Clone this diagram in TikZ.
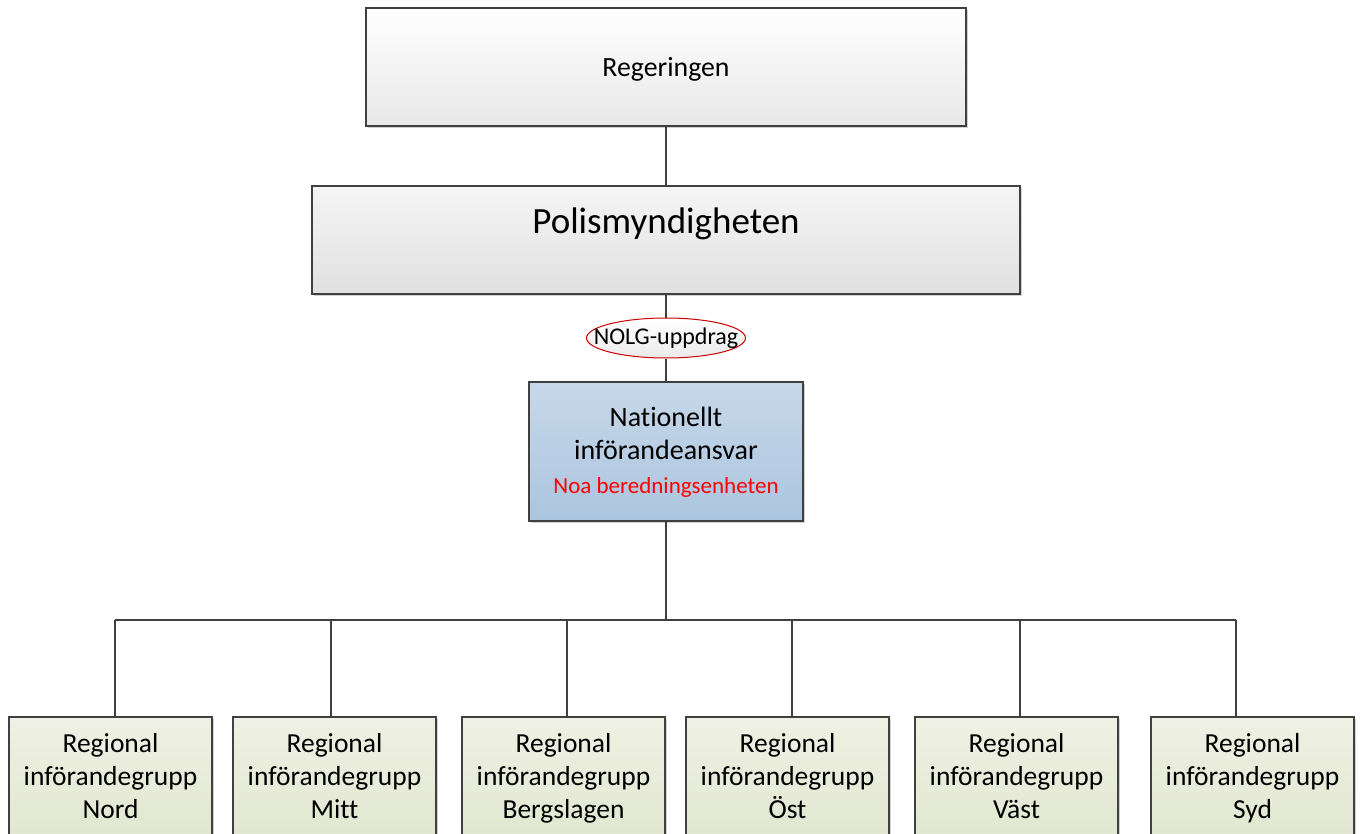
\documentclass[tikz,border=0pt]{standalone}
\usepackage{fontspec}
\setmainfont{Carlito}[Ligatures=NoCommon]
\usetikzlibrary{shapes.geometric,shadows}
\definecolor{linec}{HTML}{404040}
\definecolor{bluetop}{HTML}{C7D8EA}
\definecolor{bluebot}{HTML}{ABC5DE}
\definecolor{greentop}{HTML}{EFF1E4}
\definecolor{greenbot}{HTML}{DFE5CD}
\tikzset{
  box/.style={draw=linec, line width=1.2pt, inner sep=0pt, align=center, text=black,
    drop shadow={shadow xshift=2pt, shadow yshift=-2pt, opacity=0.35, fill=gray}},
  graybox/.style={box, top color=white, bottom color=black!9},
  polbox/.style={box, top color=black!4, bottom color=black!12},
  bluebox/.style={box, top color=bluetop, bottom color=bluebot},
  greenbox/.style={box, top color=greentop, bottom color=greenbot, minimum width=203pt, minimum height=140pt},
  conn/.style={draw=linec, line width=1.2pt},
}
\begin{document}
\begin{tikzpicture}[x=1pt,y=-1pt]
\useasboundingbox (0,0) rectangle (1362,834);
\clip (0,0) rectangle (1362,834);
\fill[white] (0,0) rectangle (1362,834);
% boxes
\node[graybox, minimum width=600pt, minimum height=118pt] (reg) at (666,67) {};
\node[font=\fontsize{27.8}{33}\selectfont] (regtext) at (666,69) {Regeringen};
\node[polbox, minimum width=708pt, minimum height=108pt] (pol) at (666,240) {};
\node[font=\fontsize{37}{44}\selectfont] (poltext) at (666,224) {Polismyndigheten};
\node[bluebox, minimum width=274pt, minimum height=139pt] (nat) at (666,451.5) {};
\node[align=center, font=\fontsize{28}{33}\selectfont] (nattext) at (666,433) {Nationellt\\inf\"orandeansvar};
\node[text=red, font=\fontsize{23}{28}\selectfont] (noa) at (666,487) {Noa beredningsenheten};
\node[ellipse, draw=red!80!black, line width=1pt, top color=white, bottom color=black!8, minimum width=159pt, minimum height=40pt, inner sep=0pt] (nolg) at (666,338) {};
\node[font=\fontsize{24}{28}\selectfont] (nolgtext) at (666,338) {NOLG-uppdrag};
% connectors
\draw[conn] (reg.south) -- (pol.north);
\draw[conn] (pol.south) -- (nolg.north);
\draw[conn] (nolg.south) -- (nat.north);
\coordinate (bus) at (666,620);
\draw[conn] (nat.south) -- (bus);
\coordinate (busL) at (115,620);
\coordinate (busR) at (1236,620);
\draw[conn] (busL) -- (busR);
% bottom boxes
\foreach \cx/\bx/\name/\lbl in {115/110.5/nord/Nord, 331/334.5/mitt/Mitt, 567/563.5/berg/Bergslagen, 792/787.5/ost/\"Ost, 1020/1016.5/vast/V\"ast, 1236/1252.5/syd/Syd}{
  \node[greenbox] (\name) at (\bx,787) {};
  \node[align=center, font=\fontsize{27.5}{33}\selectfont] (\name t) at (\bx,781) {Regional\\inf\"orandegrupp\\\lbl\strut};
  \coordinate (\name b) at (\cx,620);
  \draw[conn] (\name b) -- (\cx,717);
}
\end{tikzpicture}
\end{document}
